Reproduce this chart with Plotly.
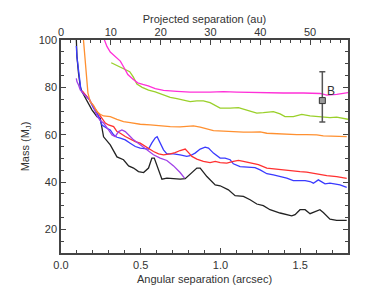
import plotly.graph_objects as go

# ---- data (arcsec, Mjup) ----
black_x = [0.096,0.100,0.110,0.121,0.131,0.158,0.194,0.226,0.246,0.267,0.309,0.351,0.392,0.424,0.455,0.486,0.518,0.549,0.570,0.585,0.602,0.633,0.664,0.706,0.747,0.779,0.810,0.852,0.873,0.915,0.967,0.998,1.050,1.092,1.144,1.186,1.228,1.269,1.311,1.374,1.447,1.468,1.499,1.531,1.562,1.593,1.624,1.645,1.687,1.729,1.792]
black_y = [100.5,93.0,85.9,80.3,78.2,74.7,70.5,67.6,67.0,59.1,55.7,50.6,49.4,46.8,45.9,44.4,44.0,45.9,50.1,50.1,46.8,41.2,41.6,41.4,41.2,41.4,43.5,45.9,45.9,42.3,38.8,38.4,36.7,34.2,33.9,32.5,30.7,30.0,28.3,26.9,25.7,26.2,28.3,28.3,26.6,27.4,28.3,27.1,24.3,23.8,23.8]

blue_x = [0.096,0.100,0.110,0.117,0.125,0.142,0.179,0.204,0.226,0.242,0.257,0.288,0.309,0.330,0.351,0.372,0.403,0.434,0.466,0.497,0.528,0.549,0.570,0.591,0.603,0.622,0.643,0.664,0.706,0.747,0.789,0.810,0.841,0.873,0.904,0.925,0.956,0.998,1.029,1.061,1.081,1.123,1.165,1.217,1.249,1.291,1.332,1.363,1.416,1.457,1.531,1.562,1.583,1.614,1.635,1.656,1.687,1.719,1.750,1.792]
blue_y = [97.5,93.0,87.3,83.1,78.9,77.5,74.7,71.2,69.1,67.0,64.1,62.7,62.0,59.9,58.9,58.5,57.8,56.4,55.0,54.3,53.9,53.9,56.5,58.6,59.1,56.4,53.6,51.9,51.9,51.5,50.8,51.1,52.2,53.9,54.7,54.3,52.2,50.1,50.1,49.4,47.7,46.5,46.3,46.1,45.1,43.5,43.0,42.6,41.6,40.6,40.6,40.2,39.5,40.9,40.2,39.2,39.5,39.2,38.8,37.7]

red_x = [0.133,0.158,0.179,0.204,0.236,0.257,0.278,0.298,0.330,0.351,0.372,0.403,0.434,0.466,0.497,0.528,0.560,0.580,0.612,0.643,0.685,0.716,0.747,0.779,0.800,0.821,0.852,0.893,0.935,0.967,0.998,1.040,1.081,1.113,1.144,1.186,1.238,1.291,1.332,1.374,1.437,1.499,1.541,1.604,1.667,1.729,1.792]
red_y = [78.5,76.4,74.7,71.9,69.1,67.0,64.9,64.1,63.4,61.3,60.6,59.2,58.1,57.1,56.4,55.0,53.9,52.9,51.9,51.5,51.9,52.4,53.3,53.9,52.4,50.8,49.7,48.7,48.2,48.7,48.2,48.0,48.7,49.1,48.7,48.0,47.3,45.9,45.6,45.1,44.7,44.4,44.2,43.3,42.7,42.3,41.5]

purple_x = [0.096,0.100,0.110,0.121,0.140,0.179,0.204,0.226,0.246,0.267,0.298,0.320,0.340,0.361,0.382,0.403,0.434,0.455,0.497,0.539,0.580,0.622,0.664,0.706,0.747,0.775]
purple_y = [83.8,82.4,81.0,78.9,77.4,74.7,71.7,67.9,66.0,64.9,62.0,59.9,59.2,61.3,62.0,61.3,59.2,57.8,55.7,53.6,51.5,50.1,49.1,46.8,44.0,41.6]

orange_x = [0.140,0.146,0.152,0.159,0.163,0.169,0.184,0.204,0.226,0.246,0.267,0.309,0.351,0.392,0.434,0.497,0.560,0.622,0.685,0.747,0.789,0.831,0.873,0.915,0.956,1.019,1.081,1.144,1.197,1.249,1.291,1.353,1.416,1.479,1.541,1.604,1.645,1.708,1.792]
orange_y = [100.8,95.8,91.6,85.9,81.7,77.5,73.8,72.4,69.7,68.6,67.9,67.6,66.5,65.5,65.1,64.4,64.1,63.7,63.4,63.3,63.4,63.7,63.2,62.3,61.7,61.5,61.2,61.1,61.1,61.2,60.6,60.3,60.3,60.0,60.0,59.9,59.5,59.4,59.2]

green_x = [0.315,0.359,0.397,0.431,0.453,0.476,0.509,0.549,0.591,0.643,0.685,0.727,0.768,0.810,0.852,0.893,0.935,0.977,0.998,1.061,1.113,1.144,1.186,1.228,1.269,1.332,1.374,1.405,1.457,1.510,1.562,1.624,1.687,1.729,1.771,1.800]
green_y = [90.4,89.0,87.7,86.6,84.4,81.4,80.0,78.8,78.1,76.8,75.8,75.2,74.7,74.0,74.3,74.3,73.5,71.9,71.2,71.2,71.4,70.8,70.0,69.1,69.3,69.7,68.8,67.6,67.6,68.6,67.9,67.4,67.2,67.4,67.0,66.5]

magenta_x = [0.268,0.288,0.309,0.340,0.372,0.395,0.419,0.450,0.481,0.513,0.547,0.591,0.643,0.727,0.810,0.935,1.019,1.103,1.186,1.291,1.395,1.520,1.625,1.667,1.729,1.806]
magenta_y = [100.8,97.3,94.9,93.2,91.1,88.4,85.4,83.5,81.9,81.2,80.6,79.5,78.7,78.3,78.0,78.0,78.2,78.0,77.8,77.6,77.6,77.6,77.4,76.7,77.0,77.8]

b_x = [1.639]
b_y = [74.4]
b_err_plus = [12.2]
b_err_minus = [9.1]
b_label = "B"

AU_PER_ARCSEC = 32.0

series = [
    (black_x, black_y, "#222222"),
    (blue_x, blue_y, "#3a3aff"),
    (red_x, red_y, "#ff3030"),
    (purple_x, purple_y, "#a040e8"),
    (orange_x, orange_y, "#ff9030"),
    (green_x, green_y, "#9ad02a"),
    (magenta_x, magenta_y, "#ff30d8"),
]

fig = go.Figure()
for xs, ys, c in series:
    fig.add_trace(go.Scatter(x=xs, y=ys, mode="lines", line=dict(color=c, width=1.3),
                             showlegend=False, hoverinfo="skip"))

fig.add_trace(go.Scatter(
    x=b_x, y=b_y, mode="markers",
    marker=dict(symbol="square", size=6, color="#999999", line=dict(color="#333333", width=1)),
    error_y=dict(type="data", symmetric=False, array=b_err_plus, arrayminus=b_err_minus,
                 color="#555555", thickness=1.5, width=3),
    showlegend=False, hoverinfo="skip"))

# invisible trace on top axis
fig.add_trace(go.Scatter(x=[0, 1.8 * AU_PER_ARCSEC], y=[None, None], xaxis="x2",
                         mode="lines", showlegend=False, hoverinfo="skip"))

fig.add_annotation(x=1.694, y=78.6, text=b_label, showarrow=False,
                   font=dict(size=12, color="#333333"))

axcol = "#444444"
fnt = dict(family="Liberation Sans, Arial, sans-serif", size=11, color="#333333")

# page body has an 8px margin: figure is 358x285 so plot box lands at x 61..348, y 40..253
fig.update_layout(
    width=358, height=285,
    margin=dict(l=53, r=18, t=32, b=40),
    paper_bgcolor="white", plot_bgcolor="white",
    font=fnt,
    xaxis=dict(range=[0, 1.8], tickvals=[0, 0.5, 1.0, 1.5],
               ticktext=["0.0", "0.5", "1.0", "1.5"], automargin=False,
               ticks="inside", ticklen=5, tickcolor=axcol, tickwidth=1,
               ticklabelstandoff=1,
               minor=dict(ticks="inside", dtick=0.1, ticklen=3, tickcolor=axcol),
               showline=True, linecolor=axcol, linewidth=1.5, mirror=False,
               showgrid=False, zeroline=False,
               title=dict(text="Angular separation (arcsec)", standoff=5, font=fnt)),
    xaxis2=dict(range=[0, 1.8 * AU_PER_ARCSEC], overlaying="x", side="top",
                tickvals=[0, 10, 20, 30, 40, 50], automargin=False,
                ticks="inside", ticklen=5, tickcolor=axcol,
                ticklabelstandoff=-2,
                minor=dict(ticks="inside", dtick=2, ticklen=3, tickcolor=axcol),
                showline=True, linecolor=axcol, linewidth=1.5,
                showgrid=False, zeroline=False,
                title=dict(text="Projected separation (au)", standoff=0, font=fnt)),
    yaxis=dict(range=[10, 100], tickvals=[20, 40, 60, 80, 100], automargin=False,
               ticks="inside", ticklen=5, tickcolor=axcol,
               minor=dict(ticks="inside", dtick=5, ticklen=3, tickcolor=axcol),
               showline=True, linecolor=axcol, linewidth=1.5, mirror="ticks",
               showgrid=False, zeroline=False,
               title=dict(text="Mass (M<sub>J</sub>)", standoff=7, font=fnt)),
)

fig.write_html("out.html")
